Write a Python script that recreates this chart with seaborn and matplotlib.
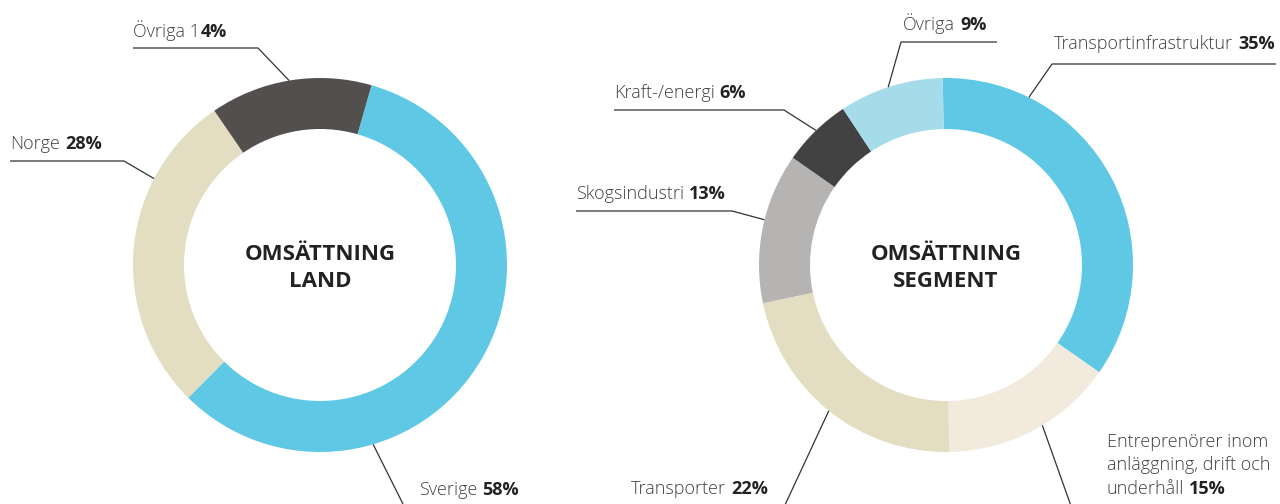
import numpy as np
import seaborn as sns
import matplotlib.pyplot as plt

sns.set_theme(style="white")
plt.rcParams["font.family"] = ["Open Sans", "DejaVu Sans"]

W, H = 1280, 504

# left donut: omsättning per land
land_values = [58, 28, 14]
land_plain = ["Sverige", "Norge", "Övriga 1"]
land_bold = ["58%", "28%", "4%"]
land_colors = sns.color_palette(["#5ec8e5", "#e3ddc2", "#534f4e"])

# right donut: omsättning per segment
seg_values = [35, 15, 22, 13, 6, 9]
seg_plain = ["Transportinfrastruktur",
             "Entreprenörer inom\nanläggning, drift och\nunderhåll",
             "Transporter", "Skogsindustri", "Kraft-/energi", "Övriga"]
seg_bold = ["35%", "15%", "22%", "13%", "6%", "9%"]
seg_colors = sns.color_palette(["#5ec8e5", "#f2eadc", "#e3ddc2",
                                "#b5b4b3", "#424242", "#a6dbea"])

R, RING = 187, 51
TXT, BOLD = "#404040", "#222222"

# label layout (pixels from top-left): text x, baseline y, ring angle, leader path
land_layout = [
    dict(x=419, y=495, ang=163.5, path=[(411, 520)]),
    dict(x=10, y=149, ang=-62.5, path=[(124, 161), (10, 161)]),
    dict(x=133, y=37, ang=-9.5, path=[(258, 48), (133, 48)], gap=0.6),
]
seg_layout = [
    dict(x=1054, y=49, ang=26.3, path=[(1052, 64), (1276, 64)]),
    dict(x=1107, y=447, ang=149, path=[(1076, 520)]),
    dict(x=631, y=494, ang=218.8, path=[(778, 520)]),
    dict(x=576, y=199, ang=-76, path=[(732, 211), (576, 211)]),
    dict(x=614, y=98, ang=-44, path=[(784, 110), (614, 110)]),
    dict(x=903, y=30, ang=-18, path=[(901, 42), (997, 42)]),
]

fig = plt.figure(figsize=(12.8, 5.04), dpi=100)
ax = fig.add_axes([0, 0, 1, 1])


def label(x, y, plain, bold, gap=3.6):
    lines = plain.split("\n")
    for i, line in enumerate(lines):
        t = ax.text(x, H - (y + 23.5 * i), line, ha="left", va="baseline",
                    fontsize=13, fontweight="light", color=TXT)
    ax.annotate(bold, xy=(1, 0), xycoords=t, xytext=(gap, 0),
                textcoords="offset points", ha="left", va="bottom",
                fontsize=13, fontweight="bold", color=BOLD)


def donut(cx, cy, values, colors, start, plain, bold, layout, title):
    ax.pie(values, colors=colors, startangle=start, counterclock=False,
           radius=R, center=(cx, H - cy),
           wedgeprops=dict(width=RING, edgecolor="none", linewidth=0))
    for p, b, lay in zip(plain, bold, layout):
        a = np.deg2rad(lay["ang"])
        pts = [(cx + R * np.sin(a), H - (cy - R * np.cos(a)))]
        pts += [(px, H - py) for px, py in lay["path"]]
        xs, ys = zip(*pts)
        ax.plot(xs, ys, color="#333333", lw=0.9, solid_capstyle="butt")
        label(lay["x"], lay["y"], p, b, lay.get("gap", 3.6))
    for i, line in enumerate(title):
        ax.text(cx, H - (cy - 4.5 + 26.5 * i), line, ha="center",
                va="baseline", fontsize=16, fontweight="bold", color="#222222")


donut(320, 265, land_values, land_colors, 74, land_plain, land_bold,
      land_layout, ["OMSÄTTNING", "LAND"])
donut(946, 265, seg_values, seg_colors, 91, seg_plain, seg_bold,
      seg_layout, ["OMSÄTTNING", "SEGMENT"])

ax.set_xlim(0, W)
ax.set_ylim(0, H)
ax.set_aspect("equal")
ax.axis("off")

fig.savefig("out.png", dpi=100, facecolor="white")
